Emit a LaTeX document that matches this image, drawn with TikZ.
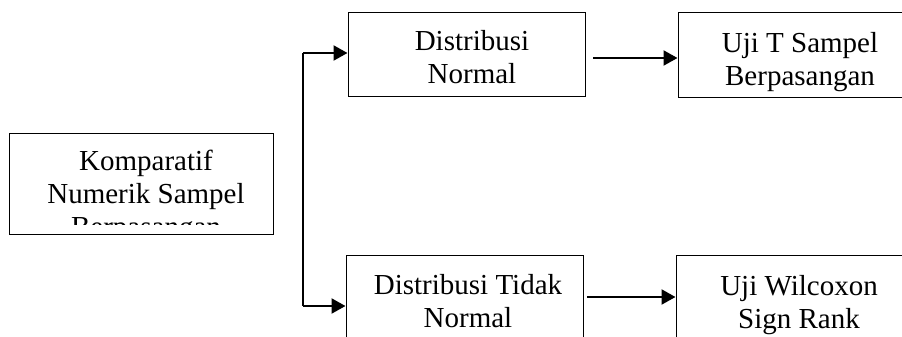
\documentclass[tikz,border=0pt]{standalone}
\usepackage{fontspec}
\setmainfont{Liberation Serif}
\usetikzlibrary{arrows.meta}
\begin{document}
\begin{tikzpicture}[x=1pt,y=-1pt,
  box/.style={draw=black,line width=1pt,inner sep=0pt,minimum width=237pt,minimum height=83pt},
  txt/.style={align=center,inner sep=0pt,anchor=base,font=\fontsize{29}{33}\selectfont},
  link/.style={line width=2.2pt},
  arr/.style={line width=2.2pt,-{Triangle[length=14pt,width=15pt]}}]
\useasboundingbox (0,0) rectangle (902,337);
% boxes
\node[box,minimum width=264pt,minimum height=101pt] (komp) at (141,183.5) {};
\node[box] (dn) at (466.5,54.5) {};
\node[box,minimum height=84pt] (ut) at (796.5,55) {};
\node[box] (dtn) at (464.5,296.5) {};
\node[box] (uw) at (794.5,296.5) {};
% texts
\begin{scope}
\clip (9,133) rectangle (273,224);
\node[txt] (kompt) at (146,236) {Komparatif\\Numerik Sampel\\Berpasangan};
\end{scope}
\node[txt] (dnt) at (472,84) {Distribusi\\Normal};
\node[txt] (utt) at (800,85) {Uji T Sampel\\Berpasangan};
\node[txt] (dtnt) at (468,327) {Distribusi Tidak\\Normal};
\node[txt] (uwt) at (799,328) {Uji Wilcoxon\\Sign Rank};
% connectors
\coordinate (jt) at (303,53);
\coordinate (jb) at (303,306);
\coordinate (a1) at (593,58);
\coordinate (a2) at (587,297);
\draw[link] (jb) -- (jt);
\draw[arr] (jt) -- (dn.west |- jt);
\draw[arr] (jb) -- (dtn.west |- jb);
\draw[arr] (a1) -- (ut.west |- a1);
\draw[arr] (a2) -- (uw.west |- a2);
\end{tikzpicture}
\end{document}
